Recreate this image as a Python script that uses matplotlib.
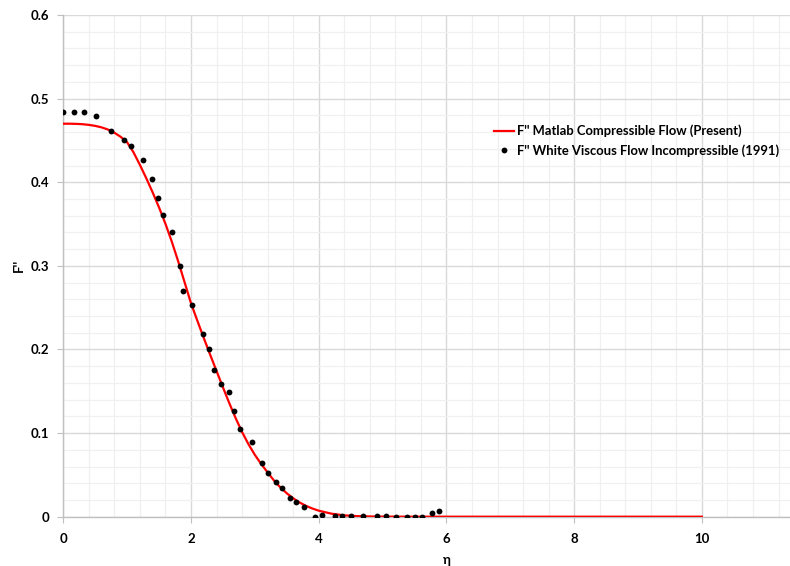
import numpy as np
import matplotlib
matplotlib.use('Agg')
import matplotlib.pyplot as plt
from matplotlib.ticker import MultipleLocator

# curva F'' (Matlab, flujo compresible)
eta_matlab = [0.0, 0.1, 0.2, 0.3, 0.4, 0.5, 0.6, 0.7, 0.8, 0.9,
              1.0, 1.1, 1.2, 1.3, 1.4, 1.5, 1.6, 1.7, 1.8, 1.9,
              2.0, 2.1, 2.2, 2.3, 2.4, 2.5, 2.6, 2.7, 2.8, 2.9,
              3.0, 3.1, 3.2, 3.3, 3.4, 3.5, 3.6, 3.7, 3.8, 3.9,
              4.0, 4.2, 4.4, 4.6, 4.8, 5.0, 5.5, 10.0]
fpp_matlab = [0.4700, 0.4700, 0.4698, 0.4694, 0.4686, 0.4674, 0.4656, 0.4630, 0.4592, 0.4542,
              0.4477, 0.4357, 0.4207, 0.4047, 0.3877, 0.3697, 0.3502, 0.3287, 0.3052, 0.2802,
              0.2552, 0.2342, 0.2137, 0.1937, 0.1742, 0.1547, 0.1357, 0.1177, 0.1012, 0.0867,
              0.0739, 0.0629, 0.0529, 0.0432, 0.0350, 0.0280, 0.0220, 0.0170, 0.0130, 0.0098,
              0.0072, 0.0036, 0.0016, 0.0007, 0.0003, 0.0001, 0.0, 0.0]

# puntos White (1991), flujo incompresible
eta_white = [0.00, 0.16, 0.32, 0.51, 0.745, 0.947, 1.06, 1.245, 1.39, 1.482, 1.554, 1.707,
             1.83, 1.875, 2.016, 2.193, 2.277, 2.366, 2.475, 2.595, 2.668, 2.762, 2.956,
             3.112, 3.206, 3.337, 3.431, 3.556, 3.650, 3.765, 3.94, 4.05, 4.25, 4.36,
             4.50, 4.69, 4.92, 5.06, 5.21, 5.39, 5.50, 5.62, 5.77, 5.88]
fpp_white = [0.484, 0.484, 0.484, 0.479, 0.461, 0.451, 0.443, 0.426, 0.404, 0.381, 0.361,
             0.340, 0.300, 0.270, 0.253, 0.218, 0.201, 0.176, 0.1585, 0.149, 0.1265,
             0.1046, 0.0894, 0.0647, 0.0523, 0.0419, 0.0347, 0.0224, 0.0176, 0.012,
             0.0, 0.0024, 0.0012, 0.0012, 0.0012, 0.0004, 0.0004, 0.0004, 0.0002,
             0.0002, 0.0002, 0.0002, 0.0045, 0.0068]

x_ticks = [0, 2, 4, 6, 8, 10]
y_ticks = [0, 0.1, 0.2, 0.3, 0.4, 0.5, 0.6]
y_labels = ['0', '0.1', '0.2', '0.3', '0.4', '0.5', '0.6']

plt.rcParams['font.family'] = ['Lato', 'DejaVu Sans']
plt.rcParams['font.weight'] = 'bold'

fig = plt.figure(figsize=(7.9, 5.66), dpi=100)
# el area del grafico se sale por la derecha (imagen recortada)
ax = fig.add_axes([63.3/790, 49.3/566, 766.3/790, 501.7/566])

ax.plot(eta_matlab, fpp_matlab, color='#ff0000', lw=1.6,
        label="F'' Matlab Compressible Flow (Present)", zorder=3)
ax.plot(eta_white, fpp_white, 'o', color='black', ms=4.2, mec='none',
        label="F'' White Viscous Flow Incompressible (1991)", zorder=4)

ax.set_xlim(0, 12)
ax.set_ylim(0, 0.6)
ax.set_xticks(x_ticks, [str(t) for t in x_ticks])
ax.xaxis.set_minor_locator(MultipleLocator(0.4))
ax.set_yticks(y_ticks, y_labels)
ax.yaxis.set_minor_locator(MultipleLocator(0.02))

ax.grid(which='major', color='#d9d9d9', lw=1.0)
ax.grid(which='minor', color='#f0f0f0', lw=0.9)
ax.set_axisbelow(True)

for s in ['top', 'right']:
    ax.spines[s].set_visible(False)
for s in ['left', 'bottom']:
    ax.spines[s].set_color('#bfbfbf')
    ax.spines[s].set_linewidth(1.0)

ax.tick_params(which='major', length=4, color='#bfbfbf', labelsize=9.5, pad=6)
ax.tick_params(which='minor', length=0)
ax.tick_params(axis='x', pad=8)

ax.set_xlabel('η', fontsize=9.5, fontweight='bold', labelpad=6)
ax.set_ylabel("F''", fontsize=9.5, fontweight='bold', labelpad=4)

ax.legend(loc='upper left', bbox_to_anchor=(487/790, 1 - 118/566),
          bbox_transform=fig.transFigure, frameon=False, fontsize=9.4,
          handlelength=1.6, handletextpad=0.2, labelspacing=0.55, borderpad=0)

plt.savefig('out.png', dpi=100)
